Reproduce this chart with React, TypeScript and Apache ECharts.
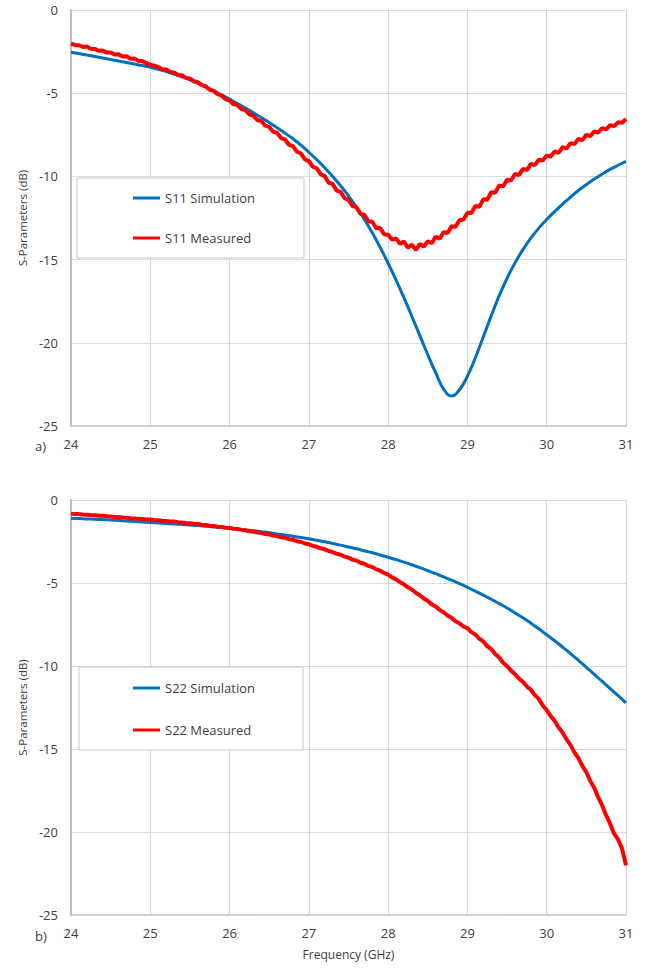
import React, { useEffect, useRef } from "react";
import * as echarts from "echarts";

// Frequency sweeps (GHz)
const simStart = 24;
const simStep = 0.1;
const measStep = 0.05;

// S11 (dB)
const s11Sim = [
  -2.54, -2.62, -2.71, -2.80, -2.89, -2.98, -3.07, -3.16, -3.25, -3.34,
  -3.44, -3.56, -3.70, -3.85, -4.02, -4.20, -4.40, -4.62, -4.86, -5.10,
  -5.36, -5.62, -5.89, -6.17, -6.46, -6.76, -7.07, -7.40, -7.74, -8.12,
  -8.55, -9.00, -9.48, -10.00, -10.56, -11.17, -11.84, -12.58, -13.39, -14.27,
  -15.22, -16.23, -17.30, -18.42, -19.57, -20.72, -21.80, -22.78, -23.20, -22.82,
  -22.00, -20.90, -19.65, -18.38, -17.18, -16.12, -15.20, -14.40, -13.71, -13.11,
  -12.59, -12.11, -11.66, -11.24, -10.85, -10.49, -10.16, -9.86, -9.58, -9.33,
  -9.10,
];
const s11Meas = [
  -2.02, -2.10, -2.12, -2.22, -2.20, -2.33, -2.34, -2.45, -2.44, -2.56,
  -2.55, -2.68, -2.66, -2.80, -2.78, -2.93, -2.92, -3.05, -3.06, -3.20,
  -3.28, -3.35, -3.42, -3.56, -3.57, -3.72, -3.75, -3.90, -3.92, -4.08,
  -4.12, -4.28, -4.34, -4.52, -4.58, -4.80, -4.86, -5.06, -5.14, -5.36,
  -5.44, -5.66, -5.72, -5.96, -6.02, -6.28, -6.34, -6.62, -6.66, -6.95,
  -7.02, -7.32, -7.38, -7.70, -7.78, -8.10, -8.18, -8.52, -8.62, -8.98,
  -9.08, -9.42, -9.52, -9.88, -9.98, -10.38, -10.45, -10.85, -10.92, -11.30,
  -11.40, -11.78, -11.85, -12.25, -12.30, -12.70, -12.72, -13.12, -13.10, -13.48,
  -13.50, -13.80, -13.72, -14.05, -13.92, -14.28, -14.10, -14.42, -14.05, -14.22,
  -13.90, -14.02, -13.62, -13.75, -13.35, -13.40, -13.00, -13.02, -12.62, -12.60,
  -12.18, -12.20, -11.78, -11.82, -11.38, -11.40, -10.95, -10.98, -10.55, -10.60,
  -10.20, -10.25, -9.85, -9.92, -9.55, -9.62, -9.25, -9.32, -9.00, -9.05,
  -8.75, -8.80, -8.50, -8.58, -8.25, -8.32, -8.00, -8.06, -7.75, -7.82,
  -7.50, -7.58, -7.30, -7.36, -7.10, -7.18, -6.92, -6.98, -6.75, -6.78,
  -6.55,
];

// S22 (dB)
const s22Sim = [
  -1.10, -1.12, -1.14, -1.16, -1.18, -1.21, -1.24, -1.27, -1.30, -1.33,
  -1.36, -1.39, -1.42, -1.45, -1.48, -1.51, -1.54, -1.58, -1.62, -1.66,
  -1.70, -1.75, -1.80, -1.85, -1.91, -1.97, -2.04, -2.11, -2.18, -2.26,
  -2.34, -2.43, -2.52, -2.62, -2.72, -2.83, -2.94, -3.06, -3.18, -3.31,
  -3.45, -3.59, -3.74, -3.90, -4.07, -4.25, -4.44, -4.63, -4.83, -5.04,
  -5.26, -5.49, -5.73, -5.98, -6.24, -6.51, -6.80, -7.10, -7.42, -7.76,
  -8.12, -8.48, -8.86, -9.25, -9.66, -10.08, -10.50, -10.93, -11.36, -11.79,
  -12.22,
];
const s22Meas = [
  -0.82, -0.85, -0.85, -0.88, -0.89, -0.91, -0.92, -0.95, -0.95, -0.98,
  -0.99, -1.02, -1.03, -1.06, -1.07, -1.10, -1.11, -1.13, -1.14, -1.17,
  -1.18, -1.21, -1.22, -1.25, -1.26, -1.29, -1.30, -1.34, -1.35, -1.39,
  -1.40, -1.44, -1.45, -1.49, -1.50, -1.55, -1.56, -1.61, -1.62, -1.67,
  -1.68, -1.73, -1.75, -1.80, -1.82, -1.88, -1.90, -1.96, -1.98, -2.05,
  -2.07, -2.14, -2.17, -2.25, -2.28, -2.36, -2.40, -2.48, -2.53, -2.62,
  -2.67, -2.76, -2.82, -2.91, -2.97, -3.07, -3.13, -3.24, -3.30, -3.41,
  -3.47, -3.59, -3.65, -3.78, -3.84, -3.97, -4.04, -4.18, -4.26, -4.40,
  -4.50, -4.66, -4.78, -4.95, -5.08, -5.26, -5.40, -5.59, -5.74, -5.93,
  -6.08, -6.28, -6.42, -6.62, -6.76, -6.96, -7.10, -7.30, -7.42, -7.62,
  -7.72, -7.96, -8.10, -8.36, -8.52, -8.80, -8.98, -9.28, -9.48, -9.80,
  -10.00, -10.28, -10.48, -10.76, -10.95, -11.24, -11.42, -11.75, -11.98, -12.38,
  -12.65, -13.02, -13.30, -13.70, -14.00, -14.42, -14.75, -15.20, -15.55, -16.02,
  -16.40, -16.92, -17.35, -17.92, -18.40, -19.00, -19.50, -20.10, -20.45, -21.00,
  -22.00,
];

const xTicks = [24, 25, 26, 27, 28, 29, 30, 31];
const yTicks = [0, -5, -10, -15, -20, -25];

const FONT = "Open Sans";
const TEXT = "#404040";
const BLUE = "#0070c0";
const RED = "#ff0000";

const pairs = (vals: number[], step: number) =>
  vals.map((v, i) => [Math.round((simStart + i * step) * 1000) / 1000, v]);

export default function App() {
  const ref = useRef<HTMLDivElement>(null);
  useEffect(() => {
    if (!ref.current) return;
    const chart = echarts.init(ref.current, null, { renderer: "svg" });
    const grids = [
      { left: 71, top: 10, width: 555, height: 416 },
      { left: 71, top: 500, width: 555, height: 415 },
    ];
    const xAxis = [0, 1].map((i) => ({
      gridIndex: i,
      type: "value",
      min: xTicks[0],
      max: xTicks[xTicks.length - 1],
      interval: 1,
      axisLine: { show: true, onZero: false, lineStyle: { color: "#c8c8c8", width: 1.5 } },
      axisTick: { show: false },
      axisLabel: { color: TEXT, fontSize: 13, fontFamily: FONT, margin: 11 },
      splitLine: { show: true, lineStyle: { color: "#d6d6d6", width: 1 } },
      name: i === 1 ? "Frequency (GHz)" : "",
      nameLocation: "middle",
      nameGap: 33,
      nameTextStyle: { color: TEXT, fontSize: 12, fontFamily: FONT },
    }));
    const yAxis = [0, 1].map((i) => ({
      gridIndex: i,
      type: "value",
      min: yTicks[yTicks.length - 1],
      max: yTicks[0],
      interval: 5,
      axisLine: { show: true, onZero: false, lineStyle: { color: "#bfbfbf", width: 2 } },
      axisTick: { show: false },
      axisLabel: { color: TEXT, fontSize: 13, fontFamily: FONT, margin: 13 },
      splitLine: { show: true, lineStyle: { color: "#dcdcdc", width: 1 } },
      name: "S-Parameters (dB)",
      nameLocation: "middle",
      nameGap: 43,
      nameTextStyle: { color: TEXT, fontSize: 11.5, fontFamily: FONT },
    }));
    const legendBase = {
      orient: "vertical",
      icon: "rect",
      itemWidth: 27,
      itemHeight: 3,
      borderColor: "#c8c8c8",
      borderWidth: 1,
      backgroundColor: "#ffffff",
      textStyle: { color: TEXT, fontSize: 13, fontFamily: FONT, lineHeight: 14 },
    };
    const option = {
      animation: false,
      backgroundColor: "#ffffff",
      textStyle: { fontFamily: FONT },
      grid: grids,
      xAxis,
      yAxis,
      legend: [
        {
          ...legendBase,
          left: 77,
          top: 178,
          itemGap: 26,
          padding: [13, 49, 13, 56],
          data: ["S11 Simulation", "S11 Measured"],
        },
        {
          ...legendBase,
          left: 79,
          top: 667,
          itemGap: 28,
          padding: [14, 48, 13, 54],
          data: ["S22 Simulation", "S22 Measured"],
        },
      ],
      series: [
        {
          name: "S11 Simulation",
          type: "line",
          xAxisIndex: 0,
          yAxisIndex: 0,
          data: pairs(s11Sim, simStep),
          smooth: true,
          symbol: "none",
          lineStyle: { color: BLUE, width: 3 },
          itemStyle: { color: BLUE },
        },
        {
          name: "S11 Measured",
          type: "line",
          xAxisIndex: 0,
          yAxisIndex: 0,
          data: pairs(s11Meas, measStep),
          symbol: "none",
          lineStyle: { color: RED, width: 4 },
          itemStyle: { color: RED },
        },
        {
          name: "S22 Simulation",
          type: "line",
          xAxisIndex: 1,
          yAxisIndex: 1,
          data: pairs(s22Sim, simStep),
          smooth: true,
          symbol: "none",
          lineStyle: { color: BLUE, width: 3 },
          itemStyle: { color: BLUE },
        },
        {
          name: "S22 Measured",
          type: "line",
          xAxisIndex: 1,
          yAxisIndex: 1,
          data: pairs(s22Meas, measStep),
          symbol: "none",
          lineStyle: { color: RED, width: 4 },
          itemStyle: { color: RED },
        },
      ],
      graphic: [
        {
          type: "text",
          left: 35,
          top: 439,
          style: { text: "a)", fontSize: 13, fontFamily: FONT, fill: TEXT },
        },
        {
          type: "text",
          left: 35,
          top: 929,
          style: { text: "b)", fontSize: 13, fontFamily: FONT, fill: TEXT },
        },
      ],
    };
    chart.setOption(option as any);
    return () => chart.dispose();
  }, []);
  return (
    <div
      ref={ref}
      style={{ position: "absolute", left: 0, top: 0, width: 654, height: 968, background: "#fff" }}
    />
  );
}
